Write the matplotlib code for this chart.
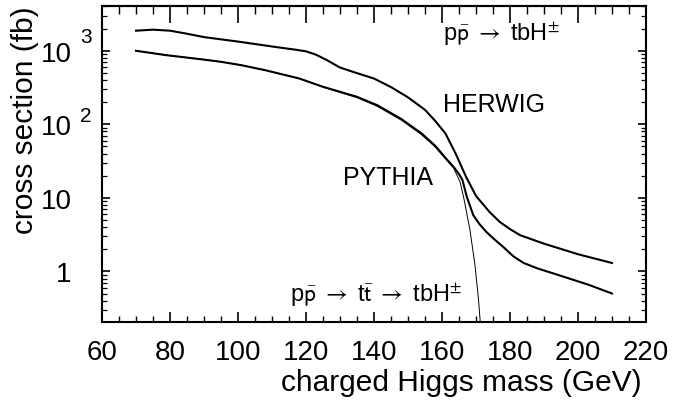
import matplotlib
matplotlib.use("Agg")
import matplotlib.pyplot as plt
from matplotlib.ticker import MultipleLocator, LogLocator, FixedLocator, FixedFormatter, NullFormatter
import matplotlib.transforms as mtransforms

plt.rcParams['font.family'] = ['Liberation Sans', 'DejaVu Sans']
plt.rcParams['mathtext.fontset'] = 'stixsans'
plt.rcParams['xtick.direction'] = 'in'
plt.rcParams['ytick.direction'] = 'in'

# HERWIG, pp -> tbH (upper thick curve)
m_herwig = [70, 75, 80, 85, 90, 100, 110, 117, 120, 123, 126, 130, 135, 140, 145,
            150, 155, 158, 161, 164, 167, 170, 174, 177, 180, 183, 190, 200, 210]
s_herwig = [1870, 1930, 1870, 1700, 1530, 1330, 1140, 1030, 980, 880, 750, 590, 495,
            418, 320, 232, 157, 111, 75, 40, 19.6, 10.6, 6.4, 4.7, 3.75, 3.1, 2.38, 1.71, 1.30]

# PYTHIA, pp -> tbH (lower thick curve)
m_pythia = [70, 79, 89, 95, 101, 108, 118, 125, 135, 141, 148, 154, 158, 161,
            163.5, 165, 166, 167.3, 169.2, 171, 173, 175.5, 178, 181, 184, 188, 193, 203, 210]
s_pythia = [997, 868, 766, 706, 635, 543, 419, 323, 236, 181, 118, 75, 51, 35,
            26, 21, 17.5, 10.3, 5.8, 4.4, 3.45, 2.7, 2.15, 1.6, 1.3, 1.1, 0.93, 0.66, 0.50]

# pp -> tt -> tbH (thin curve)
m_ttbar = [70, 79, 89, 95, 101, 108, 118, 125, 135, 141, 148, 154, 158, 161,
           163.5, 165.3, 166.5, 168.2, 169.7, 170.7, 171.3]
s_ttbar = [997, 868, 766, 706, 635, 543, 419, 320, 230, 175, 114, 72, 49, 34,
           25, 16.5, 9.5, 3.7, 1.21, 0.43, 0.19]

xticks = [60, 80, 100, 120, 140, 160, 180, 200, 220]
yticks = [1, 10, 100, 1000]
ytick_labels = ['1', '10', '10', '10']

fig = plt.figure(figsize=(6.74, 4.02), dpi=100)
ax = fig.add_axes([0.1513, 0.1965, 0.8072, 0.7861])

ax.plot(m_herwig, s_herwig, color='black', lw=1.5)
ax.plot(m_pythia, s_pythia, color='black', lw=1.5)
ax.plot(m_ttbar, s_ttbar, color='black', lw=0.7)

ax.set_yscale('log')
ax.set_xlim(60, 220)
ax.set_ylim(0.205, 4050)

ax.xaxis.set_major_locator(FixedLocator(xticks))
ax.xaxis.set_minor_locator(MultipleLocator(5))
ax.yaxis.set_major_locator(FixedLocator(yticks))
ax.yaxis.set_major_formatter(FixedFormatter(ytick_labels))
ax.yaxis.set_minor_locator(LogLocator(base=10, subs=range(2, 10), numticks=20))
ax.yaxis.set_minor_formatter(NullFormatter())

for sp in ax.spines.values():
    sp.set_linewidth(1.5)

ax.tick_params(axis='x', which='major', direction='in', length=7, width=1.2,
               labelsize=20, pad=12, bottom=True, top=False)
ax.tick_params(axis='x', which='minor', direction='in', length=4, width=1,
               bottom=True, top=False)
ax.tick_params(axis='y', which='major', direction='in', length=6, width=1.2,
               labelsize=20, pad=22, left=True, right=True)
ax.tick_params(axis='y', which='minor', direction='in', length=3.5, width=0.9,
               left=True, right=True)

top = ax.secondary_xaxis('top')
top.xaxis.set_major_locator(FixedLocator(xticks))
top.xaxis.set_minor_locator(MultipleLocator(5))
top.tick_params(which='major', direction='in', length=12, width=1.2, labeltop=False)
top.tick_params(which='minor', direction='in', length=6, width=1)
top.spines['top'].set_linewidth(1.5)

# exponents on the y tick labels
trans = mtransforms.blended_transform_factory(ax.transAxes, ax.transData)
ax.annotate('3', xy=(0, 1000), xycoords=trans, xytext=(-11.5, 10),
            textcoords='offset points', ha='center', va='center', fontsize=15)
ax.annotate('2', xy=(0, 100), xycoords=trans, xytext=(-11.5, 6.5),
            textcoords='offset points', ha='center', va='center', fontsize=15)

ax.set_xlabel('charged Higgs mass (GeV)', fontsize=21.5)
ax.xaxis.set_label_coords(0.66, -0.146)
ax.set_ylabel('cross section (fb)', fontsize=21.5)
ax.yaxis.set_label_coords(-0.115, 0.642)

ax.text(160.3, 1377, r'p$\bar{\mathrm{p}}$ $\rightarrow$ tbH$^{\pm}$',
        fontsize=17, ha='left', va='baseline')
ax.text(160.3, 153, 'HERWIG', fontsize=18, ha='left', va='baseline')
ax.text(130.9, 15.6, 'PYTHIA', fontsize=18, ha='left', va='baseline')
ax.text(115.3, 0.4, r'p$\bar{\mathrm{p}}$ $\rightarrow$ t$\bar{\mathrm{t}}$ $\rightarrow$ tbH$^{\pm}$',
        fontsize=17, ha='left', va='baseline')

fig.savefig('out.png', dpi=100)
